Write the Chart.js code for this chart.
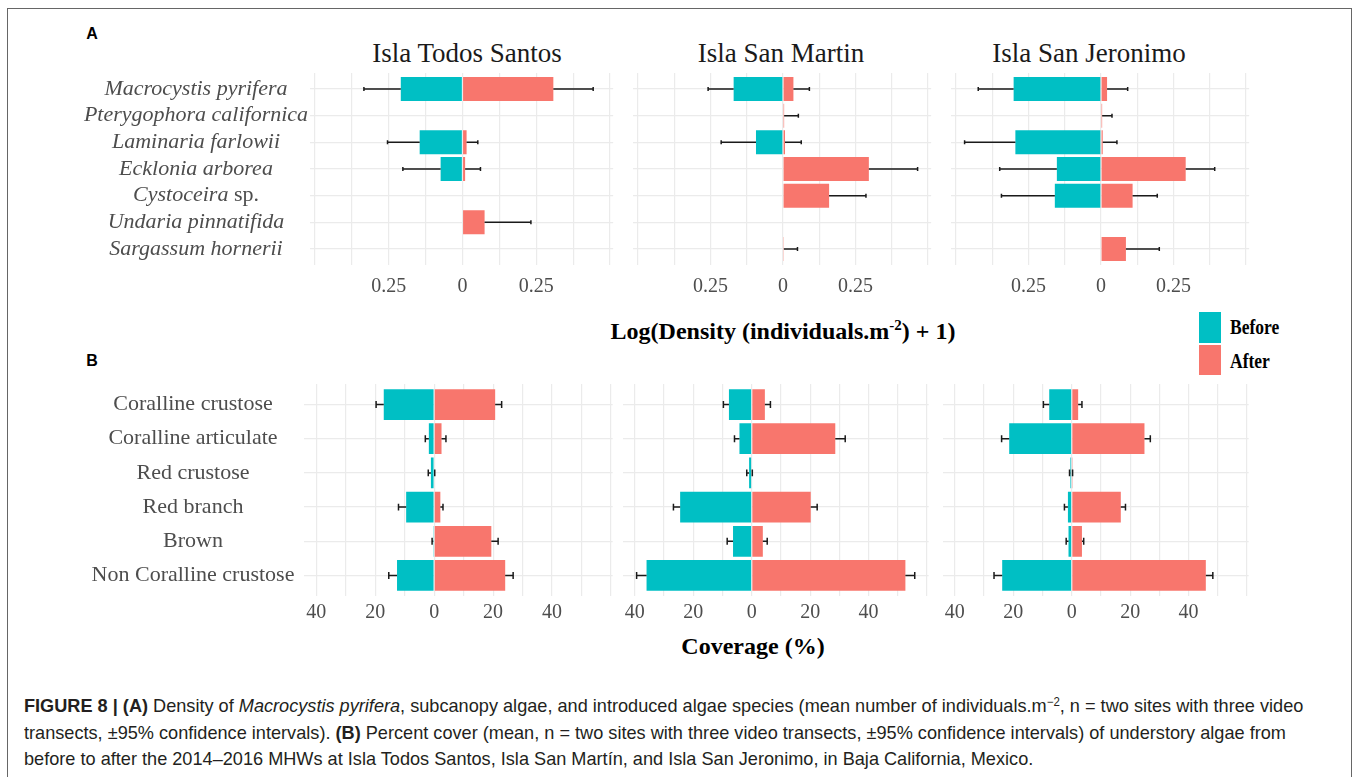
<!DOCTYPE html>
<html>
<head>
<meta charset="utf-8">
<script src="https://cdn.jsdelivr.net/npm/chart.js@4.4.1/dist/chart.umd.min.js"></script>
<style>
  html, body { margin: 0; padding: 0; background: #fff; width: 1358px; height: 777px; overflow: hidden; }
  #fig { position: relative; width: 1358px; height: 777px; }
  .frame { position: absolute; left: 7px; top: 8px; width: 1345px; height: 800px; border: 1.5px solid #666; box-sizing: border-box; }
  canvas { position: absolute; }
  .t { position: absolute; white-space: nowrap; transform: translate(-50%, -50%); }
  .title { font: 27px 'Liberation Serif', serif; color: #1a1a1a; }
  .axt { font: bold 24px 'Liberation Serif', serif; color: #000; }
  .axt sup { font-size: 15px; vertical-align: 9px; line-height: 0; }
  .tag { font: bold 16px 'Liberation Sans', sans-serif; color: #000; }
  .key { position: absolute; width: 22px; }
  .legt { position: absolute; white-space: nowrap; font: bold 20px 'Liberation Serif', serif; color: #000;
          transform: translate(0, -50%) scaleX(0.875); transform-origin: left center; }
  .cap { position: absolute; left: 24px; top: 693px; font: 19px 'Liberation Sans', sans-serif;
         color: #231f20; line-height: 26.5px; white-space: nowrap; transform: scaleX(0.955); transform-origin: left top; }
  .cap b { font-weight: bold; }
  .cap sup { font-size: 12px; vertical-align: 6px; line-height: 0; }
</style>
</head>
<body>
<div id="fig">
  <div class="frame"></div>
  <div class="t tag" style="left:92px; top:34px;">A</div>
  <div class="t tag" style="left:92px; top:361px;">B</div>

  <div class="t title" style="left:467px; top:53px;">Isla Todos Santos</div>
  <div class="t title" style="left:781px; top:53px;">Isla San Martin</div>
  <div class="t title" style="left:1089px; top:53px;">Isla San Jeronimo</div>

  <div class="t axt" style="left:783px; top:331px;">Log(Density (individuals.m<sup>-2</sup>) + 1)</div>
  <div class="t axt" style="left:753px; top:646px;">Coverage (%)</div>

  <div class="key" style="left:1199px; top:312px; height:31px; background:#00BFC4;"></div>
  <div class="key" style="left:1199px; top:345px; height:30px; background:#F8766D;"></div>
  <div class="legt" style="left:1230px; top:327px;">Before</div>
  <div class="legt" style="left:1230px; top:361px;">After</div>

  <div class="cap">
    <b>FIGURE 8 | (A)</b> Density of <i>Macrocystis pyrifera</i>, subcanopy algae, and introduced algae species (mean number of individuals.m<sup>−2</sup>, n = two sites with three video<br>
    transects, ±95% confidence intervals). <b>(B)</b> Percent cover (mean, n = two sites with three video transects, ±95% confidence intervals) of understory algae from<br>
    before to after the 2014–2016 MHWs at Isla Todos Santos, Isla San Martín, and Isla San Jeronimo, in Baja California, Mexico.
  </div>
</div>

<script>
// ---- Sites (one panel per site in each row) ----
const sites = ['Isla Todos Santos', 'Isla San Martin', 'Isla San Jeronimo'];

// ---- (A) density, log(individuals.m-2 + 1); rows follow `sites` ----
const speciesLabels = [
  'Macrocystis pyrifera', 'Pterygophora californica', 'Laminaria farlowii',
  'Ecklonia arborea', 'Cystoceira sp.', 'Undaria pinnatifida', 'Sargassum hornerii'
];
const densityBefore = [
  [0.209, 0, 0.145, 0.074, 0, 0, 0],
  [0.170, 0, 0.093, 0, 0, 0, 0],
  [0.301, 0, 0.295, 0.152, 0.159, 0, 0]
];
const densityBeforeCI = [
  [0.125, 0, 0.109, 0.128, 0, 0, 0],
  [0.088, 0, 0.120, 0, 0, 0, 0],
  [0.122, 0, 0.175, 0.197, 0.184, 0, 0]
];
const densityAfter = [
  [0.308, 0, 0.014, 0.009, 0, 0.075, 0],
  [0.036, 0.004, 0.007, 0.296, 0.159, 0, 0.003],
  [0.021, 0.004, 0.006, 0.292, 0.109, 0, 0.086]
];
const densityAfterCI = [
  [0.135, 0, 0.038, 0.052, 0, 0.157, 0],
  [0.055, 0.049, 0.056, 0.168, 0.127, 0, 0.047],
  [0.071, 0.034, 0.049, 0.100, 0.085, 0, 0.115]
];
const densityBreaks = [-0.25, 0, 0.25];
const densityBreakLabels = ['0.25', '0', '0.25'];

// ---- (B) percent cover ----
const coverLabels = [
  'Coralline crustose', 'Coralline articulate', 'Red crustose',
  'Red branch', 'Brown', 'Non Coralline crustose'
];
const coverBefore = [
  [17.1, 1.8, 1.1, 9.5, 0.3, 12.6],
  [7.8, 4.2, 0.9, 24.5, 6.4, 36.0],
  [7.7, 21.4, 0.45, 1.3, 1.1, 23.8]
];
const coverBeforeCI = [
  [2.6, 1.2, 0.9, 2.6, 0.4, 2.8],
  [1.9, 1.7, 0.8, 2.3, 2.0, 3.4],
  [2.0, 2.6, 0.3, 1.2, 0.8, 2.8]
];
const coverAfter = [
  [20.7, 2.5, 0, 2.1, 19.4, 24.1],
  [4.5, 28.6, 0, 20.2, 3.8, 52.6],
  [2.2, 24.9, 0.1, 16.8, 3.5, 45.9]
];
const coverAfterCI = [
  [2.2, 1.5, 0.2, 0.9, 2.3, 2.7],
  [1.9, 3.4, 0.2, 2.2, 1.5, 3.2],
  [1.3, 2.0, 0.2, 1.6, 0.6, 2.4]
];
const coverBreaks = [-40, -20, 0, 20, 40];
const coverBreakLabels = ['40', '20', '0', '20', '40'];

// ---- colours ----
const BEFORE_COLOR = '#00BFC4';
const AFTER_COLOR = '#F8766D';
const GRID_COLOR = '#ebebeb';
const TEXT_GRAY = '#4d4d4d';

// Shared x range per row: data extent (bar + interval) widened by 5% on each side.
function expandedRange(before, beforeCI, after, afterCI) {
  let lo = 0, hi = 0;
  before.forEach((row, s) => row.forEach((v, i) => { lo = Math.min(lo, -(v + beforeCI[s][i])); }));
  after.forEach((row, s) => row.forEach((v, i) => { hi = Math.max(hi, v + afterCI[s][i]); }));
  const pad = (hi - lo) * 0.05;
  return [lo - pad, hi + pad];
}

// One-sided error bars drawn outward from the end of each bar.
const errorBarPlugin = {
  id: 'errorBars',
  afterDatasetsDraw(chart, args, opts) {
    const ctx = chart.ctx, xs = chart.scales.x, ys = chart.scales.y;
    const step = Math.abs(ys.getPixelForValue(1) - ys.getPixelForValue(0));
    const half = opts.cap * step / 2;
    ctx.save();
    ctx.strokeStyle = '#1a1a1a';
    ctx.lineWidth = 1.5;
    chart.data.datasets.forEach(ds => {
      ds.data.forEach((pt, i) => {
        const e = ds.errors[i];
        if (!e && !pt.x) return;
        const x0 = xs.getPixelForValue(pt.x);
        const x1 = xs.getPixelForValue(pt.x + ds.side * e);
        const y = ys.getPixelForValue(pt.y);
        ctx.beginPath();
        ctx.moveTo(x0, y); ctx.lineTo(x1, y);
        ctx.moveTo(x1, y - half); ctx.lineTo(x1, y + half);
        ctx.stroke();
      });
    });
    ctx.restore();
  }
};

// Category names, centred in the left margin; genus names in italics, "sp." upright.
const categoryLabelPlugin = {
  id: 'categoryLabels',
  afterDraw(chart, args, opts) {
    if (!opts.show) return;
    const ctx = chart.ctx, ys = chart.scales.y;
    ctx.save();
    ctx.fillStyle = TEXT_GRAY;
    ctx.textBaseline = 'middle';
    ctx.textAlign = 'left';
    opts.labels.forEach((name, i) => {
      let parts;
      if (opts.italic) {
        parts = name.endsWith(' sp.')
          ? [[name.slice(0, -4), true], [' sp.', false]]
          : [[name, true]];
      } else {
        parts = [[name, false]];
      }
      const fonts = parts.map(p => (p[1] ? 'italic ' : '') + opts.size + "px 'Liberation Serif'");
      let w = 0;
      parts.forEach((p, k) => { ctx.font = fonts[k]; w += ctx.measureText(p[0]).width; });
      let x = opts.center - w / 2;
      const y = ys.getPixelForValue(i);
      parts.forEach((p, k) => { ctx.font = fonts[k]; ctx.fillText(p[0], x, y); x += ctx.measureText(p[0]).width; });
    });
    ctx.restore();
  }
};

const fig = document.getElementById('fig');

function makePanel(p) {
  const cv = document.createElement('canvas');
  const totalW = p.width + p.labelW;
  const totalH = p.height + 40;
  cv.width = totalW; cv.height = totalH;
  cv.style.left = (p.left - p.labelW) + 'px';
  cv.style.top = p.top + 'px';
  cv.style.width = totalW + 'px';
  cv.style.height = totalH + 'px';
  fig.appendChild(cv);

  const idx = p.cats.map((_, i) => i);
  const gridVals = [];
  for (let v = Math.ceil(p.range[0] / p.gridStep) * p.gridStep; v <= p.range[1] + 1e-9; v += p.gridStep) gridVals.push(+v.toFixed(6));

  new Chart(cv, {
    type: 'bar',
    data: {
      datasets: [
        { label: 'Before', data: idx.map(i => ({ x: -p.before[i], y: i })), errors: p.beforeCI, side: -1,
          backgroundColor: BEFORE_COLOR, borderWidth: 0, grouped: false, barPercentage: 0.9, categoryPercentage: 1 },
        { label: 'After', data: idx.map(i => ({ x: p.after[i], y: i })), errors: p.afterCI, side: 1,
          backgroundColor: AFTER_COLOR, borderWidth: 0, grouped: false, barPercentage: 0.9, categoryPercentage: 1 }
      ]
    },
    options: {
      indexAxis: 'y',
      responsive: false,
      animation: false,
      devicePixelRatio: 1,
      layout: { padding: 0 },
      plugins: {
        legend: { display: false },
        tooltip: { enabled: false },
        errorBars: { cap: p.cap },
        categoryLabels: { show: p.labelW > 0, labels: p.cats, italic: p.italic, size: p.labelSize, center: p.labelCenter - (p.left - p.labelW) }
      },
      scales: {
        x: {
          type: 'linear', min: p.range[0], max: p.range[1], bounds: 'data', offset: false,
          border: { display: false },
          grid: { color: GRID_COLOR, lineWidth: 1.2, drawTicks: false, offset: false },
          afterBuildTicks: s => { s.ticks = gridVals.map(v => ({ value: v })); },
          ticks: {
            autoSkip: false, maxRotation: 0, minRotation: 0, padding: p.tickPad, color: TEXT_GRAY,
            font: { family: 'Liberation Serif', size: 20 },
            callback: v => {
              const k = p.breaks.findIndex(b => Math.abs(b - v) < 1e-9);
              return k >= 0 ? p.breakLabels[k] : '';
            }
          },
          afterFit: s => { s.height = 40; }
        },
        y: {
          type: 'linear', reverse: true, min: -0.6, max: p.cats.length - 0.4, bounds: 'data', offset: false,
          border: { display: false },
          grid: { color: GRID_COLOR, lineWidth: 1.2, drawTicks: false, offset: false },
          afterBuildTicks: s => { s.ticks = idx.map(v => ({ value: v })); },
          ticks: { display: false },
          afterFit: s => { s.width = p.labelW; }
        }
      }
    },
    plugins: [errorBarPlugin, categoryLabelPlugin]
  });
}

const densityRange = expandedRange(densityBefore, densityBeforeCI, densityAfter, densityAfterCI);
const coverRange = expandedRange(coverBefore, coverBeforeCI, coverAfter, coverAfterCI);

const topLefts = [310, 628, 946];
const bottomLefts = [304, 620, 940];

sites.forEach((site, s) => {
  makePanel({
    left: topLefts[s], top: 73, width: 310, height: 192,
    labelW: s === 0 ? topLefts[0] - 60 : 0, labelCenter: 196, labelSize: 22, italic: true,
    cats: speciesLabels,
    before: densityBefore[s], beforeCI: densityBeforeCI[s],
    after: densityAfter[s], afterCI: densityAfterCI[s],
    range: densityRange, breaks: densityBreaks, breakLabels: densityBreakLabels,
    gridStep: (densityBreaks[1] - densityBreaks[0]) / 2, tickPad: 10, cap: 0.15
  });
  makePanel({
    left: bottomLefts[s], top: 384, width: 312, height: 212,
    labelW: s === 0 ? bottomLefts[0] - 60 : 0, labelCenter: 193, labelSize: 22, italic: false,
    cats: coverLabels,
    before: coverBefore[s], beforeCI: coverBeforeCI[s],
    after: coverAfter[s], afterCI: coverAfterCI[s],
    range: coverRange, breaks: coverBreaks, breakLabels: coverBreakLabels,
    gridStep: (coverBreaks[1] - coverBreaks[0]) / 2, tickPad: 5, cap: 0.2
  });
});
</script>
</body>
</html>
